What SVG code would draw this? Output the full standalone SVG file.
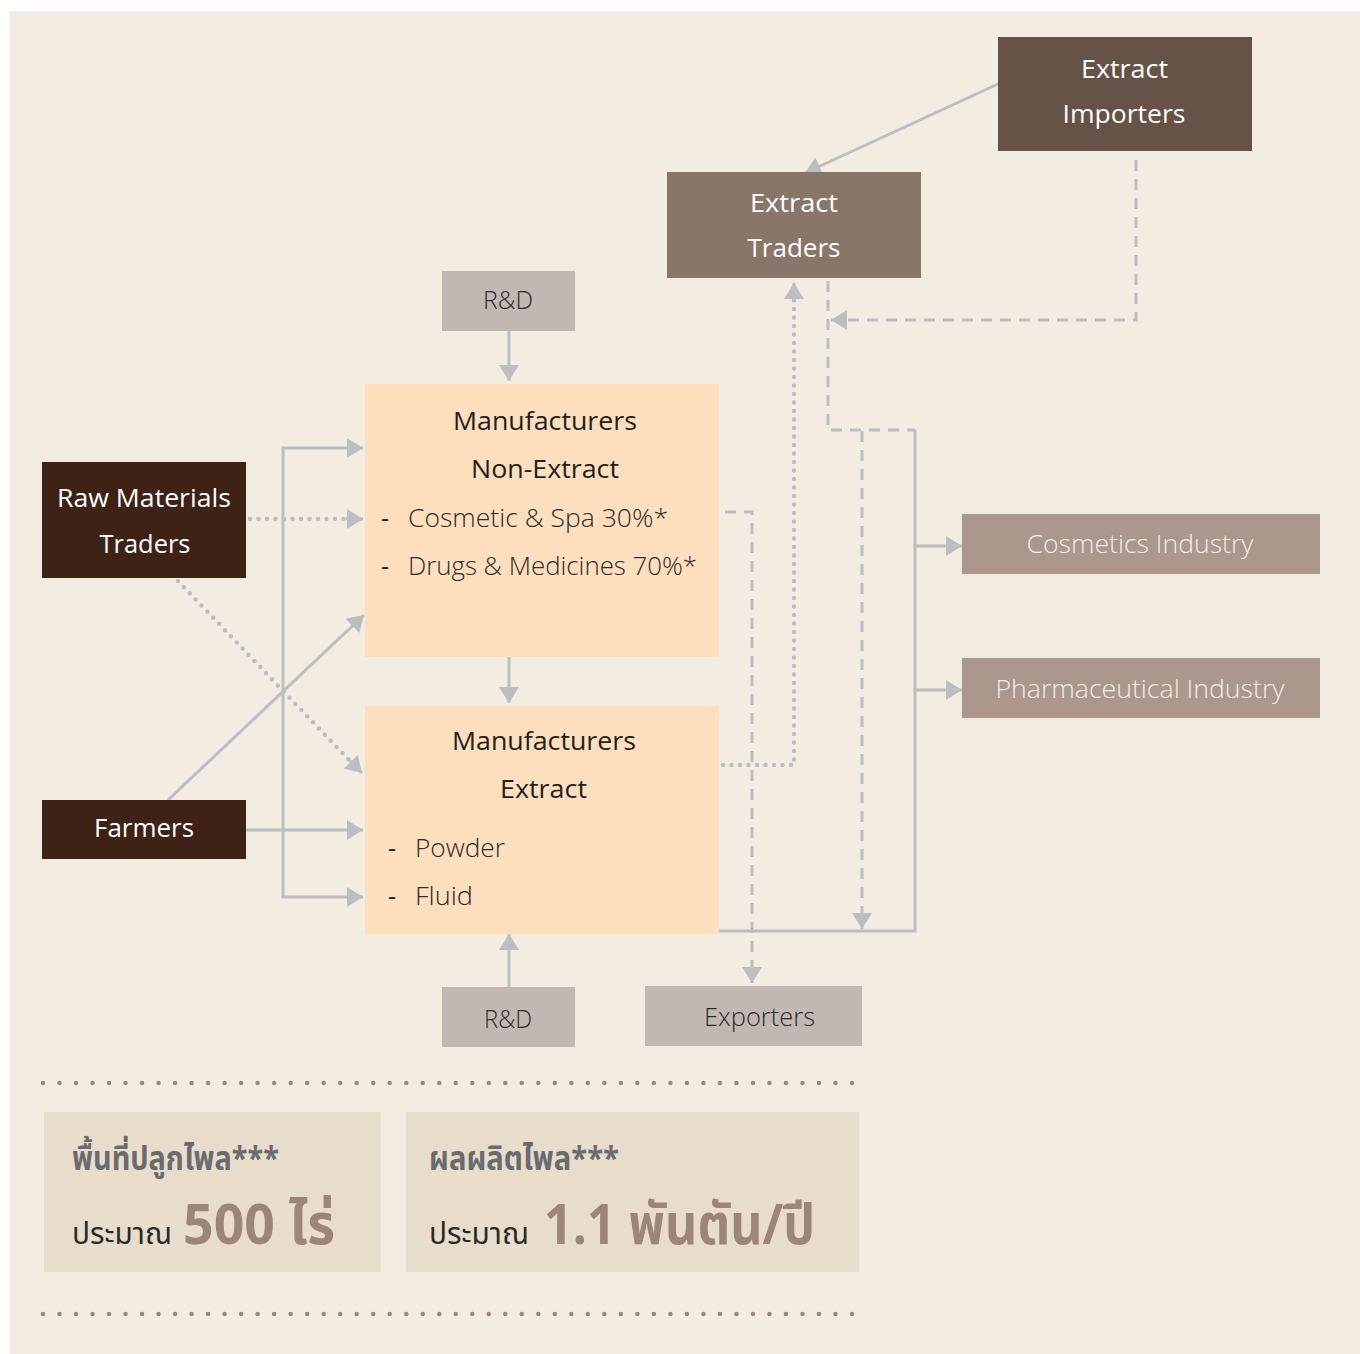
<svg xmlns="http://www.w3.org/2000/svg" width="1360" height="1354" viewBox="0 0 1360 1354">
<style>
.t{font-family:"Open Sans","Noto Sans","DejaVu Sans",sans-serif;font-size:25px;}
.w{fill:#FFFFFF;}
.d{fill:#231F20;}
.l{fill:#2E2B2A;font-weight:300;}
.ind{fill:#F4ECE6;font-weight:300;}
.th{font-family:"Noto Sans Thai","Noto Sans","DejaVu Sans",sans-serif;}
.solid{fill:none;stroke:#BDBEC1;stroke-width:3;}
.dash{fill:none;stroke:#BDBEC1;stroke-width:3;stroke-dasharray:11 8;}
.dot{fill:none;stroke:#BDBEC1;stroke-width:4.5;stroke-linecap:round;stroke-dasharray:0 8.5;}
.bdot{fill:none;stroke:#9B877D;stroke-width:4.5;stroke-linecap:round;stroke-dasharray:0 16.51;}
</style>
<defs>
<marker id="ah" viewBox="0 0 16 20" refX="16" refY="10" markerWidth="16" markerHeight="20" markerUnits="userSpaceOnUse" orient="auto">
<path d="M0,0 L16,10 L0,20 Z" fill="#BDBEC1"/>
</marker>
</defs>
<rect x="10" y="11" width="1350" height="1343" fill="#F3ECE1"/>

<g id="connectors">
<path class="solid" d="M998,84 L805,173" marker-end="url(#ah)"/>
<path class="dash" d="M1136,160 V320 H831" marker-end="url(#ah)"/>
<path class="dash" d="M828,281 V430 H915"/>
<path class="dash" d="M862,431 V929" marker-end="url(#ah)"/>
<path class="solid" d="M719,931 H915 V430"/>
<path class="solid" d="M915,546 H962" marker-end="url(#ah)"/>
<path class="solid" d="M915,690 H962" marker-end="url(#ah)"/>
<path class="dash" d="M725,512 H752 V983" marker-end="url(#ah)"/>
<path class="dot" d="M723,765 H794 V300"/>
<path class="solid" d="M794,300 V283" marker-end="url(#ah)"/>
<path class="solid" d="M509,331 V381" marker-end="url(#ah)"/>
<path class="solid" d="M509,657 V703" marker-end="url(#ah)"/>
<path class="solid" d="M509,987 V934" marker-end="url(#ah)"/>
<path class="dot" d="M250,519 H346"/>
<path class="solid" d="M346,519 H363" marker-end="url(#ah)"/>
<path class="dot" d="M178,581 L350,761"/>
<path class="solid" d="M350,761 L362,773" marker-end="url(#ah)"/>
<path class="solid" d="M168,800 L364,615" marker-end="url(#ah)"/>
<path class="solid" d="M246,830 H363" marker-end="url(#ah)"/>
<path class="solid" d="M283,673 V448 H363" marker-end="url(#ah)"/>
<path class="solid" d="M283,673 V897 H363" marker-end="url(#ah)"/>
</g>

<g id="extract-importers">
<rect x="998" y="37" width="254" height="114" fill="#665247"/>
<text class="t w" x="1124.5" y="78" text-anchor="middle" textLength="87" lengthAdjust="spacingAndGlyphs">Extract</text>
<text class="t w" x="1124" y="123" text-anchor="middle" textLength="123" lengthAdjust="spacingAndGlyphs">Importers</text>
</g>
<g id="extract-traders">
<rect x="667" y="172" width="254" height="106" fill="#887669"/>
<text class="t w" x="794" y="212" text-anchor="middle" textLength="88" lengthAdjust="spacingAndGlyphs">Extract</text>
<text class="t w" x="794" y="257" text-anchor="middle" textLength="93" lengthAdjust="spacingAndGlyphs">Traders</text>
</g>
<g id="rd-top">
<rect x="442" y="271" width="133" height="60" fill="#C2B8B3"/>
<text class="t l" x="508" y="309" text-anchor="middle" textLength="50" lengthAdjust="spacingAndGlyphs">R&amp;D</text>
</g>
<g id="manufacturers-non-extract">
<rect x="365" y="384" width="354" height="273" fill="#FDDFBE"/>
<text class="t d" x="545" y="430" text-anchor="middle" textLength="184" lengthAdjust="spacingAndGlyphs">Manufacturers</text>
<text class="t d" x="545" y="478" text-anchor="middle" textLength="148" lengthAdjust="spacingAndGlyphs">Non-Extract</text>
<text class="t d" x="381" y="527">-</text>
<text class="t l" x="408" y="527" textLength="260" lengthAdjust="spacingAndGlyphs">Cosmetic &amp; Spa 30%*</text>
<text class="t d" x="381" y="575">-</text>
<text class="t l" x="408" y="575" textLength="289" lengthAdjust="spacingAndGlyphs">Drugs &amp; Medicines 70%*</text>
</g>
<g id="manufacturers-extract">
<rect x="365" y="706" width="354" height="228" fill="#FDDFBE"/>
<text class="t d" x="544" y="750" text-anchor="middle" textLength="184" lengthAdjust="spacingAndGlyphs">Manufacturers</text>
<text class="t d" x="543.5" y="798" text-anchor="middle" textLength="87" lengthAdjust="spacingAndGlyphs">Extract</text>
<text class="t d" x="388" y="857">-</text>
<text class="t l" x="415" y="857" textLength="90" lengthAdjust="spacingAndGlyphs">Powder</text>
<text class="t d" x="388" y="905">-</text>
<text class="t l" x="415" y="905" textLength="58" lengthAdjust="spacingAndGlyphs">Fluid</text>
</g>
<g id="raw-materials-traders">
<rect x="42" y="462" width="204" height="116" fill="#3E2215"/>
<text class="t w" x="144" y="507" text-anchor="middle" textLength="174" lengthAdjust="spacingAndGlyphs">Raw Materials</text>
<text class="t w" x="145" y="553" text-anchor="middle" textLength="91" lengthAdjust="spacingAndGlyphs">Traders</text>
</g>
<g id="farmers">
<rect x="42" y="800" width="204" height="59" fill="#3E2215"/>
<text class="t w" x="144" y="837" text-anchor="middle" textLength="100" lengthAdjust="spacingAndGlyphs">Farmers</text>
</g>
<g id="rd-bottom">
<rect x="442" y="987" width="133" height="60" fill="#C2B8B3"/>
<text class="t l" x="508" y="1028" text-anchor="middle" textLength="48" lengthAdjust="spacingAndGlyphs">R&amp;D</text>
</g>
<g id="exporters">
<rect x="645" y="986" width="217" height="60" fill="#C2B8B3"/>
<text class="t l" x="759.5" y="1026" text-anchor="middle" textLength="111" lengthAdjust="spacingAndGlyphs">Exporters</text>
</g>
<g id="cosmetics-industry">
<rect x="962" y="514" width="358" height="60" fill="#AB978C"/>
<text class="t ind" x="1140" y="553" text-anchor="middle" textLength="227" lengthAdjust="spacingAndGlyphs">Cosmetics Industry</text>
</g>
<g id="pharmaceutical-industry">
<rect x="962" y="658" width="358" height="60" fill="#AB978C"/>
<text class="t ind" x="1140" y="698" text-anchor="middle" textLength="289" lengthAdjust="spacingAndGlyphs">Pharmaceutical Industry</text>
</g>

<path class="bdot" d="M43,1083 H852"/>
<path class="bdot" d="M43,1314 H852"/>

<g id="area-box">
<rect x="44" y="1112" width="337" height="160" fill="#E8DDCA"/>
<text class="th" x="72" y="1170" font-size="33" font-weight="700" fill="#6A6B70" textLength="207" lengthAdjust="spacingAndGlyphs">พื้นที่ปลูกไพล***</text>
<text class="th" x="72" y="1244" font-size="31" fill="#2A2A2A" textLength="100" lengthAdjust="spacingAndGlyphs">ประมาณ</text>
<text class="th" x="183" y="1244" font-size="56" font-weight="700" fill="#9C8679" textLength="152" lengthAdjust="spacingAndGlyphs">500 ไร่</text>
</g>
<g id="yield-box">
<rect x="406" y="1112" width="453" height="160" fill="#E8DDCA"/>
<text class="th" x="429" y="1170" font-size="33" font-weight="700" fill="#6A6B70" textLength="190" lengthAdjust="spacingAndGlyphs">ผลผลิตไพล***</text>
<text class="th" x="429" y="1244" font-size="31" fill="#2A2A2A" textLength="100" lengthAdjust="spacingAndGlyphs">ประมาณ</text>
<text class="th" x="544" y="1244" font-size="56" font-weight="700" fill="#9C8679" textLength="271" lengthAdjust="spacingAndGlyphs">1.1 พันตัน/ปี</text>
</g>
</svg>
